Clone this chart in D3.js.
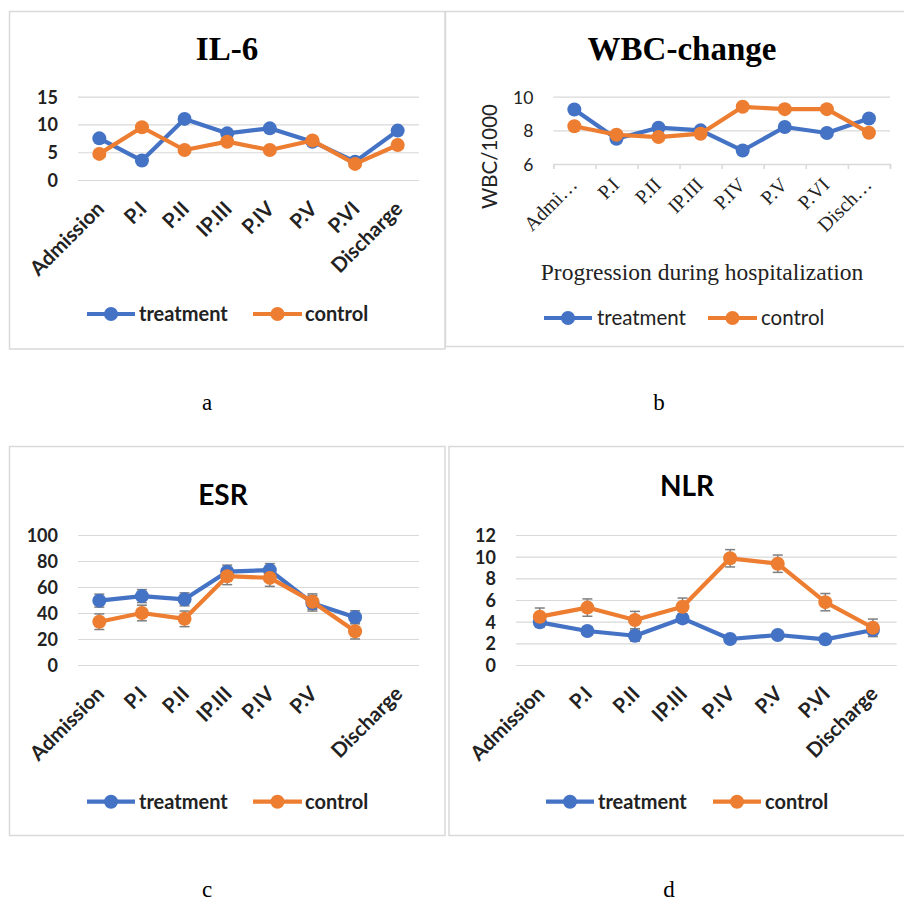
<!DOCTYPE html>
<html>
<head>
<meta charset="utf-8">
<script src="https://cdn.jsdelivr.net/npm/d3@7"></script>
<style>
  html, body { margin: 0; padding: 0; background: #fff; }
  svg { display: block; }
</style>
</head>
<body>
<svg id="chart" width="904" height="901"></svg>
<script>
// ---------------- DATA ----------------
const categoriesFull = ["Admission", "P.I", "P.II", "IP.III", "P.IV", "P.V", "P.VI", "Discharge"];
const categoriesWBC  = ["Admi\u2026", "P.I", "P.II", "IP.III", "P.IV", "P.V", "P.VI", "Disch\u2026"];
const categoriesESR  = ["Admission", "P.I", "P.II", "IP.III", "P.IV", "P.V", "", "Discharge"];

const il6Treatment = [7.5, 3.5, 11.0, 8.4, 9.3, 6.9, 3.3, 8.9];
const il6Control   = [4.7, 9.5, 5.4, 6.9, 5.4, 7.1, 2.9, 6.3];
const il6Ticks     = [0, 5, 10, 15];

const wbcTreatment = [9.24, 7.5, 8.16, 8.0, 6.8, 8.2, 7.84, 8.7];
const wbcControl   = [8.24, 7.74, 7.6, 7.8, 9.4, 9.26, 9.26, 7.86];
const wbcTicks     = [6, 8, 10];

const esrTreatment    = [49.5, 53.0, 50.5, 71.8, 73.0, 47.5, 36.7, null];
const esrControl      = [33.3, 40.0, 35.5, 68.3, 67.0, 48.7, 26.0, null];
const esrTreatmentErr = [5, 5, 5, 5, 5, 6, 5, null];
const esrControlErr   = [6, 6, 6, 6.5, 6.5, 6, 6, null];
const esrTicks        = [0, 20, 40, 60, 80, 100];

const nlrTreatment    = [3.94, 3.14, 2.7, 4.3, 2.4, 2.77, 2.37, 3.23];
const nlrControl      = [4.46, 5.3, 4.15, 5.38, 9.85, 9.35, 5.8, 3.44];
const nlrTreatmentErr = [0.4, 0.4, 0.5, 0.4, 0.3, 0.3, 0.3, 0.6];
const nlrControlErr   = [0.8, 0.8, 0.8, 0.8, 0.8, 0.8, 0.8, 0.8];
const nlrTicks        = [0, 2, 4, 6, 8, 10, 12];

const seriesNames  = ["treatment", "control"];
const seriesColors = ["#4472C4", "#ED7D31"];
const subLabels    = ["a", "b", "c", "d"];

// ---------------- DRAWING ----------------
const SANS = "Lato, 'Open Sans', sans-serif";
const SERIF = "'Liberation Serif', 'Times New Roman', serif";
const svg = d3.select("#chart");

// panel borders
const borders = [
  {x: 9.5, y: 11.5, w: 435.5, h: 337.5},
  {x: 445.5, y: 11.5, w: 470, h: 335},
  {x: 9.5, y: 446.5, w: 435.5, h: 389},
  {x: 449, y: 446.5, w: 470, h: 389}
];
svg.selectAll("rect.border").data(borders).join("rect")
  .attr("class", "border")
  .attr("x", d => d.x).attr("y", d => d.y)
  .attr("width", d => d.w).attr("height", d => d.h)
  .attr("fill", "none").attr("stroke", "#d9d9d9").attr("stroke-width", 1.5);

// sub labels
const subPos = [[207, 410], [659, 410], [207, 897], [669, 897]];
svg.selectAll("text.sub").data(subLabels).join("text")
  .attr("class", "sub")
  .attr("x", (d, i) => subPos[i][0]).attr("y", (d, i) => subPos[i][1])
  .attr("text-anchor", "middle")
  .attr("font-family", SERIF).attr("font-size", 23).attr("fill", "#000")
  .text(d => d);

function drawPanel(cfg) {
  const g = svg.append("g");
  const x = d3.scaleBand().domain(d3.range(cfg.categories.length)).range(cfg.xRange);
  const y = d3.scaleLinear().domain(cfg.yDomain).range(cfg.yRange);
  const cx = i => x(i) + x.bandwidth() / 2;
  const plotW = cfg.xRange[1] - cfg.xRange[0];

  // title
  g.append("text")
    .attr("x", cfg.title.x).attr("y", cfg.title.y)
    .attr("text-anchor", "middle")
    .attr("font-family", cfg.title.font).attr("font-weight", "bold")
    .attr("font-size", cfg.title.size).attr("fill", "#000")
    .text(cfg.title.text);

  // y axis with gridlines
  const yAxis = d3.axisLeft(y).tickValues(cfg.ticks).tickSize(-plotW).tickPadding(20)
    .tickFormat(d3.format("d"));
  const ya = g.append("g").attr("transform", `translate(${cfg.xRange[0]},0)`).call(yAxis);
  ya.select(".domain").remove();
  ya.selectAll(".tick line").attr("stroke", "#d9d9d9").attr("stroke-width", 1.2);
  ya.selectAll(".tick text")
    .attr("font-family", SANS).attr("font-size", cfg.tickSize)
    .attr("font-weight", cfg.bold ? "bold" : "normal").attr("fill", "#222")
    .attr("dy", "0.36em");

  // x axis labels
  const axisY = cfg.yRange[0];
  const xAxis = d3.axisBottom(x).tickSize(0).tickFormat(i => cfg.categories[i]);
  const xa = g.append("g").attr("transform", `translate(0,${axisY})`).call(xAxis);
  xa.select(".domain").remove();
  xa.selectAll(".tick text")
    .attr("font-family", cfg.xFont).attr("font-size", cfg.xSize)
    .attr("font-weight", cfg.bold ? "bold" : "normal").attr("fill", "#222")
    .attr("text-anchor", "end")
    .attr("x", 0).attr("y", 0).attr("dy", "0.35em")
    .attr("transform", `translate(${cfg.xLabelOff[0]},${cfg.xLabelOff[1]}) rotate(-45)`);

  if (cfg.axisLine) {
    const lin = d3.scaleLinear().domain([0, cfg.categories.length]).range(cfg.xRange);
    const xb = g.append("g").attr("transform", `translate(0,${axisY})`)
      .call(d3.axisBottom(lin).ticks(cfg.categories.length).tickSize(5).tickFormat(""));
    xb.selectAll("path, line").attr("stroke", "#d9d9d9").attr("stroke-width", 1.5);
  }

  if (cfg.yTitle) {
    g.append("text")
      .attr("transform", `translate(${cfg.yTitle.x},${cfg.yTitle.y}) rotate(-90)`)
      .attr("text-anchor", "middle").attr("dy", "0.35em")
      .attr("font-family", SANS).attr("font-size", cfg.yTitle.size).attr("fill", "#222")
      .text(cfg.yTitle.text);
  }
  if (cfg.xTitle) {
    g.append("text")
      .attr("x", cfg.xTitle.x).attr("y", cfg.xTitle.y)
      .attr("text-anchor", "middle")
      .attr("font-family", SERIF).attr("font-size", cfg.xTitle.size).attr("fill", "#222")
      .text(cfg.xTitle.text);
  }

  // error bars (behind markers)
  cfg.series.forEach((s, si) => {
    if (!s.err) return;
    const eb = g.append("g").attr("stroke", "#7f7f7f").attr("stroke-width", 1.5);
    s.values.forEach((v, i) => {
      if (v == null || s.err[i] == null) return;
      const y1 = y(v - s.err[i]), y2 = y(v + s.err[i]);
      eb.append("line").attr("x1", cx(i)).attr("x2", cx(i)).attr("y1", y1).attr("y2", y2);
      eb.append("line").attr("x1", cx(i) - 5).attr("x2", cx(i) + 5).attr("y1", y1).attr("y2", y1);
      eb.append("line").attr("x1", cx(i) - 5).attr("x2", cx(i) + 5).attr("y1", y2).attr("y2", y2);
    });
  });

  // lines and markers
  const line = d3.line().defined(d => d.v != null).x(d => cx(d.i)).y(d => y(d.v));
  cfg.series.forEach((s, si) => {
    const pts = s.values.map((v, i) => ({i, v}));
    g.append("path").datum(pts)
      .attr("d", line).attr("fill", "none")
      .attr("stroke", seriesColors[si]).attr("stroke-width", 4.2)
      .attr("stroke-linejoin", "round");
    g.append("g").selectAll("circle").data(pts.filter(d => d.v != null)).join("circle")
      .attr("cx", d => cx(d.i)).attr("cy", d => y(d.v)).attr("r", 7)
      .attr("fill", seriesColors[si]);
  });

  // legend
  cfg.legend.forEach((L, si) => {
    const lg = g.append("g");
    lg.append("line").attr("x1", L.x1).attr("x2", L.x2).attr("y1", L.y).attr("y2", L.y)
      .attr("stroke", seriesColors[si]).attr("stroke-width", 4.2);
    lg.append("circle").attr("cx", (L.x1 + L.x2) / 2).attr("cy", L.y).attr("r", 7)
      .attr("fill", seriesColors[si]);
    lg.append("text").attr("x", L.tx).attr("y", L.y).attr("dy", "0.35em")
      .attr("font-family", SANS).attr("font-size", cfg.legendSize)
      .attr("font-weight", cfg.bold ? "bold" : "normal").attr("fill", "#222")
      .text(seriesNames[si]);
  });
}

// Panel a: IL-6
drawPanel({
  categories: categoriesFull, xRange: [78, 419], yDomain: [0, 15], yRange: [180, 96.7],
  ticks: il6Ticks, bold: true, tickSize: 18, xFont: SANS, xSize: 20.5, xLabelOff: [1, 25],
  title: {text: "IL-6", x: 227, y: 60, size: 33, font: SERIF},
  series: [{values: il6Treatment}, {values: il6Control}],
  legendSize: 20,
  legend: [{x1: 87, x2: 135, y: 314, tx: 139}, {x1: 253, x2: 302, y: 314, tx: 305}]
});

// Panel b: WBC-change
drawPanel({
  categories: categoriesWBC, xRange: [553.3, 890], yDomain: [6, 10], yRange: [164, 96.7],
  ticks: wbcTicks, bold: false, tickSize: 17.5, xFont: SERIF, xSize: 20, xLabelOff: [-1, 17],
  axisLine: true,
  title: {text: "WBC-change", x: 682, y: 60, size: 33, font: SERIF},
  yTitle: {text: "WBC/1000", x: 490, y: 156.5, size: 20.5},
  xTitle: {text: "Progression during hospitalization", x: 702, y: 280, size: 23.5},
  series: [{values: wbcTreatment}, {values: wbcControl}],
  legendSize: 20.5,
  legend: [{x1: 544, x2: 592, y: 318, tx: 597}, {x1: 708, x2: 757, y: 318, tx: 761}]
});

// Panel c: ESR
drawPanel({
  categories: categoriesESR, xRange: [78, 419], yDomain: [0, 100], yRange: [665, 535],
  ticks: esrTicks, bold: true, tickSize: 18, xFont: SANS, xSize: 20.5, xLabelOff: [1, 25],
  title: {text: "ESR", x: 223, y: 505, size: 28, font: SANS},
  series: [{values: esrTreatment, err: esrTreatmentErr}, {values: esrControl, err: esrControlErr}],
  legendSize: 20,
  legend: [{x1: 87, x2: 135, y: 801.7, tx: 139}, {x1: 253, x2: 302, y: 801.7, tx: 305}]
});

// Panel d: NLR
drawPanel({
  categories: categoriesFull, xRange: [516, 896.7], yDomain: [0, 12], yRange: [665, 535],
  ticks: nlrTicks, bold: true, tickSize: 18, xFont: SANS, xSize: 20.5, xLabelOff: [1, 25],
  title: {text: "NLR", x: 687, y: 496, size: 28, font: SANS},
  series: [{values: nlrTreatment, err: nlrTreatmentErr}, {values: nlrControl, err: nlrControlErr}],
  legendSize: 20,
  legend: [{x1: 546, x2: 594, y: 801.7, tx: 598}, {x1: 713, x2: 761, y: 801.7, tx: 765}]
});
</script>
</body>
</html>
